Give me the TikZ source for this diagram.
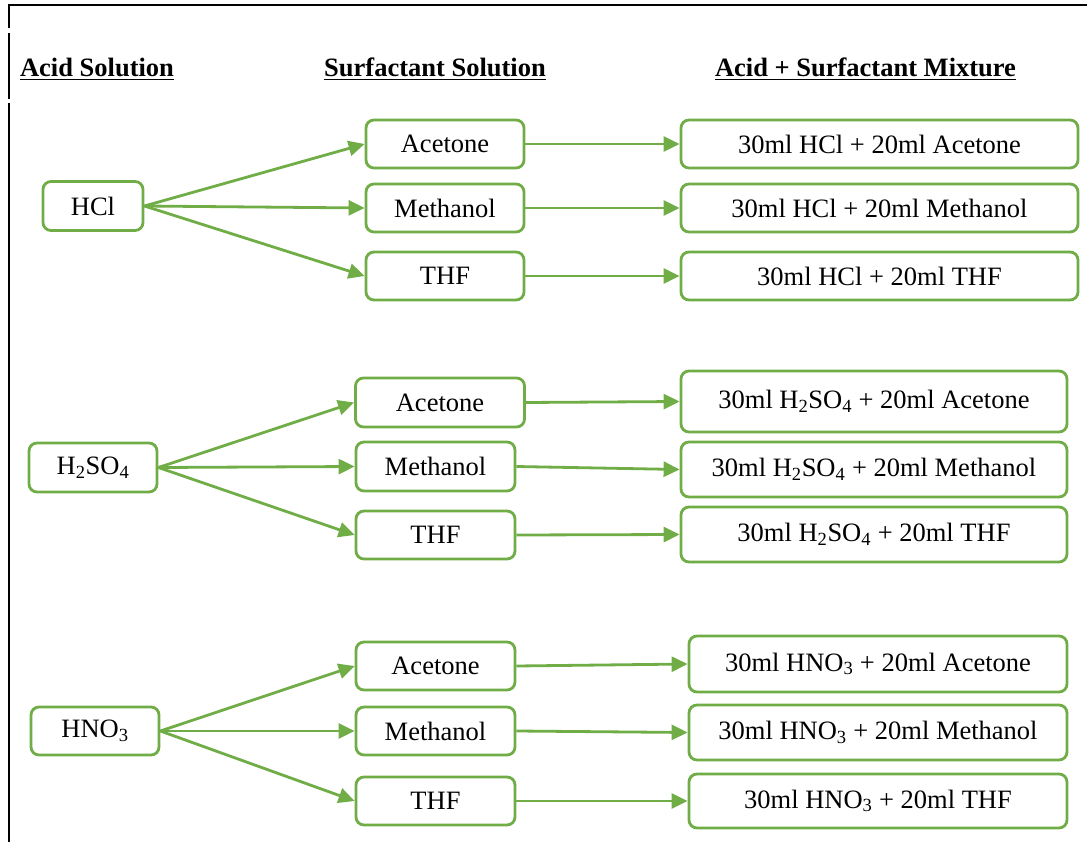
\documentclass[tikz,border=0pt]{standalone}
\usepackage{fontspec}
\setmainfont{Liberation Serif}
\usetikzlibrary{arrows.meta}
\definecolor{grn}{HTML}{70AD47}
\begin{document}
\begin{tikzpicture}[x=1pt,y=-1pt,
  box/.style={draw=grn, line width=2.8pt, rounded corners=8pt, inner sep=0pt, fill=white,
    font=\fontsize{26.5}{30}\selectfont, align=center},
  arr/.style={draw=grn, line width=2.8pt, -{Triangle[length=16pt,width=15pt]}},
  hdr/.style={font=\fontsize{26.5}{30}\selectfont\bfseries, inner sep=0pt, anchor=base},
  frame/.style={line width=2.4pt, black}]
\useasboundingbox (0,0) rectangle (1087,842);
% frame
\draw[frame] (8,5) -- (1087,5);
\draw[frame] (9,4) -- (9,28);
\draw[frame] (9,33) -- (9,99);
\draw[frame] (9,103) -- (9,842);
% headers
\node[hdr] (hA) at (97,77) {\underline{Acid Solution}};
\node[hdr] (hS) at (435,77) {\underline{Surfactant Solution}};
\node[hdr] (hM) at (865.5,77) {\underline{Acid + Surfactant Mixture}};
% group 1
\node[box, minimum width=100pt, minimum height=49pt] (h1) at (93,206) {HCl};
\node[box, minimum width=158pt, minimum height=48pt] (a1) at (445,144) {Acetone};
\node[box, minimum width=158pt, minimum height=48pt] (m1) at (445,208) {Methanol};
\node[box, minimum width=158pt, minimum height=48pt] (t1) at (445,276) {THF};
\node[box, minimum width=397pt, minimum height=48pt] (ma1) at (879.5,144) {30ml HCl + 20ml Acetone};
\node[box, minimum width=397pt, minimum height=48pt] (mm1) at (879.5,208) {30ml HCl + 20ml Methanol};
\node[box, minimum width=397pt, minimum height=48pt] (mt1) at (879.5,276) {30ml HCl + 20ml THF};
% group 2
\node[box, minimum width=128pt, minimum height=49pt] (h2) at (93,467.5) {H\textsubscript{2}SO\textsubscript{4}};
\node[box, minimum width=169pt, minimum height=49pt] (a2) at (440,402.5) {Acetone};
\node[box, minimum width=159pt, minimum height=49pt] (m2) at (435.5,466.5) {Methanol};
\node[box, minimum width=159pt, minimum height=48pt] (t2) at (435.5,535) {THF};
\node[box, minimum width=386pt, minimum height=61pt] (ma2) at (874,401.5) {30ml H\textsubscript{2}SO\textsubscript{4} + 20ml Acetone};
\node[box, minimum width=386pt, minimum height=55pt] (mm2) at (874,469.5) {30ml H\textsubscript{2}SO\textsubscript{4} + 20ml Methanol};
\node[box, minimum width=386pt, minimum height=55pt] (mt2) at (874,534.5) {30ml H\textsubscript{2}SO\textsubscript{4} + 20ml THF};
% group 3
\node[box, minimum width=128pt, minimum height=48pt] (h3) at (95,731) {HNO\textsubscript{3}};
\node[box, minimum width=159pt, minimum height=48pt] (a3) at (435.5,666) {Acetone};
\node[box, minimum width=159pt, minimum height=48pt] (m3) at (435.5,731) {Methanol};
\node[box, minimum width=159pt, minimum height=48pt] (t3) at (435.5,801) {THF};
\node[box, minimum width=378pt, minimum height=56pt] (ma3) at (878,664) {30ml HNO\textsubscript{3} + 20ml Acetone};
\node[box, minimum width=378pt, minimum height=55pt] (mm3) at (878,732.5) {30ml HNO\textsubscript{3} + 20ml Methanol};
\node[box, minimum width=378pt, minimum height=54pt] (mt3) at (878,801) {30ml HNO\textsubscript{3} + 20ml THF};
% arrows
\foreach \g in {1,2,3}{
  \draw[arr] (h\g.east) -- (a\g.west);
  \draw[arr] (h\g.east) -- (m\g.west);
  \draw[arr] (h\g.east) -- (t\g.west);
  \draw[arr] (a\g.east) -- (ma\g.west);
  \draw[arr] (m\g.east) -- (mm\g.west);
  \draw[arr] (t\g.east) -- (mt\g.west);
}
\end{tikzpicture}
\end{document}
